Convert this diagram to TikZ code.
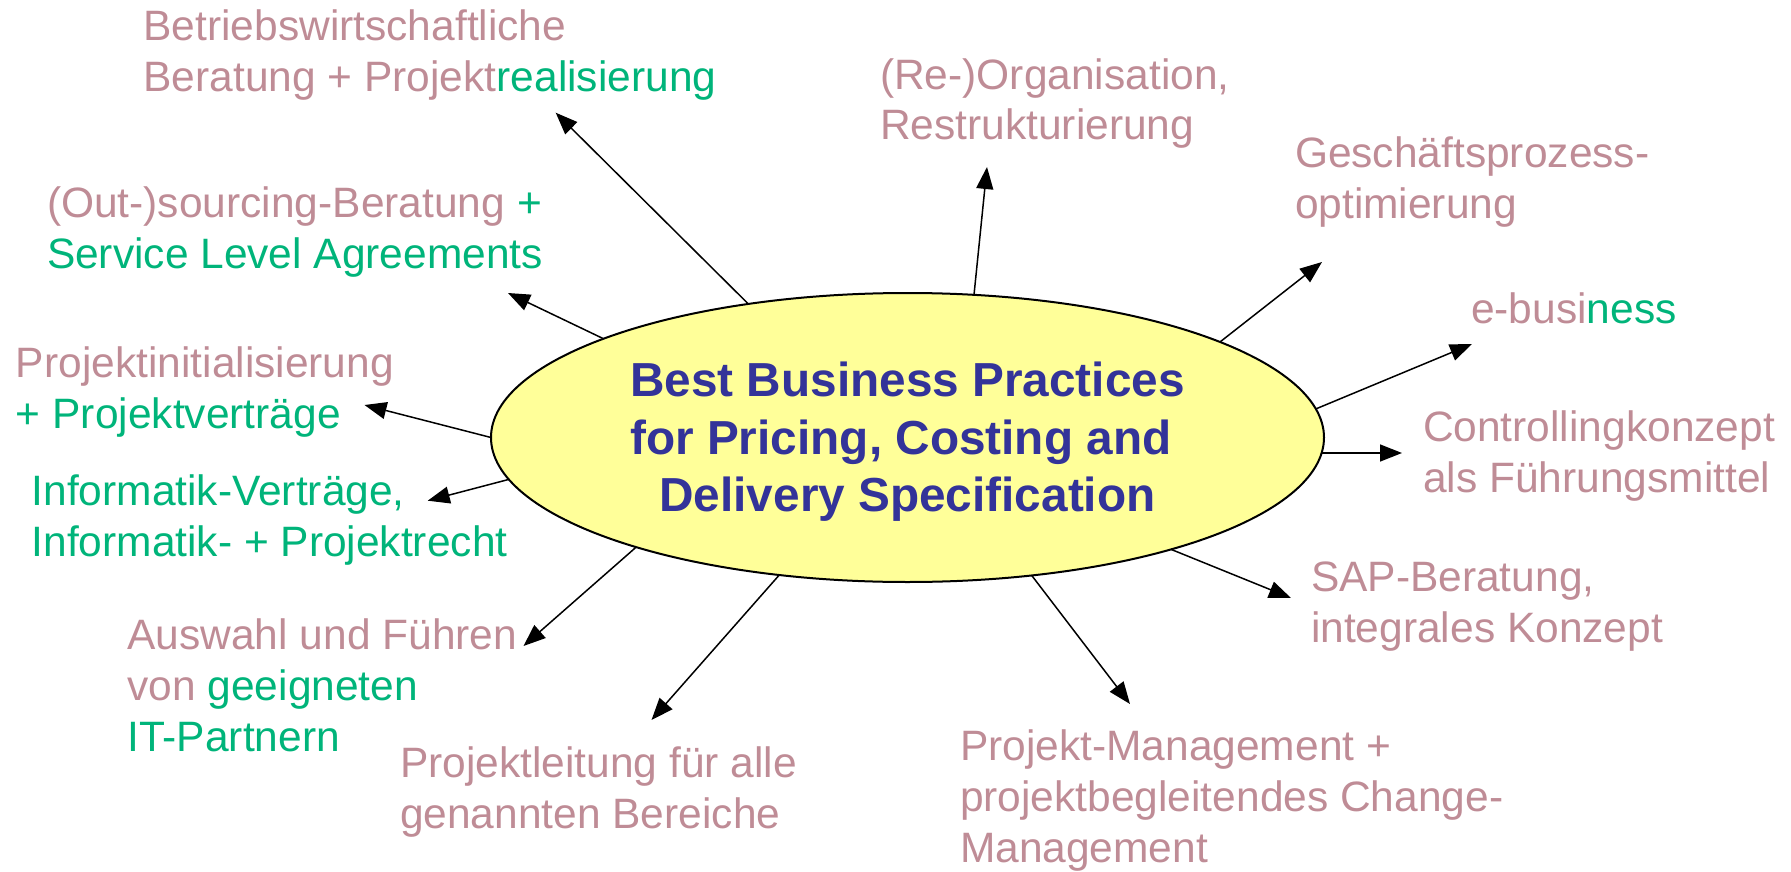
\documentclass[tikz,border=0pt]{standalone}
\usepackage{fontspec}
\setmainfont{Liberation Sans}
\usetikzlibrary{arrows.meta,shapes.geometric}
\definecolor{mauve}{RGB}{191,140,150}
\definecolor{grn}{RGB}{0,180,122}
\definecolor{navy}{RGB}{51,51,153}
\definecolor{ellfill}{RGB}{255,255,153}
\begin{document}
\begin{tikzpicture}[x=1pt,y=-1pt,
  lbl/.style={anchor=base west, inner sep=0pt, outer sep=0pt, align=left, text=mauve, font=\fontsize{42.5}{51}\selectfont},
  arr/.style={line width=1.5pt, -{Triangle[length=22pt,width=17pt]}},
  core/.style={ellipse, draw, line width=2pt, fill=ellfill, minimum width=833pt, minimum height=289pt, inner sep=0pt, outer sep=0pt}
]
\useasboundingbox (0,0) rectangle (1791,872);
\node[core] (core) at (907.5,437.5) {};
\node[anchor=base, inner sep=0pt, align=center, text=navy, font=\fontsize{47.75}{57.5}\selectfont\bfseries] (title) at (907.5,511.7) {Best Business Practices\\for Pricing, Costing and\kern13.3pt\\Delivery Specification};

\node[lbl] (l1) at (143.5,91.7) {Betriebswirtschaftliche\\Beratung + Projekt\textcolor{grn}{realisierung}};
\node[lbl] (l2) at (47,268) {(Out-)sourcing-Beratung \textcolor{grn}{+}\\\textcolor{grn}{Service Level Agreements}};
\node[lbl] (l3) at (16,428) {Projektinitialisierung\\\textcolor{grn}{+ Projektverträge}};
\node[lbl] (l4) at (880,140) {(Re-)Organisation,\\Restrukturierung};
\node[lbl] (l5) at (1295,218) {Geschäftsprozess-\\optimierung};
\node[lbl] (l6) at (1471,323) {e-busi\textcolor{grn}{ness}};
\node[lbl] (l7) at (1423,492) {Controllingkonzept\\als Führungsmittel};
\node[lbl] (l8) at (1311,642) {SAP-Beratung,\\integrales Konzept};
\node[lbl] (l9) at (960,862) {Projekt-Management +\\projektbegleitendes Change-\\Management};
\node[lbl] (l10) at (400,828) {Projektleitung für alle\\genannten Bereiche};
\node[lbl] (l11) at (127.4,751) {Auswahl und Führen\\von \textcolor{grn}{geeigneten}\\\textcolor{grn}{IT-Partnern}};
\node[lbl, text=grn] (l12) at (31.6,556) {Informatik-Verträge,\\Informatik- + Projektrecht};

\coordinate (t1) at (555.7,112.7);
\coordinate (t2) at (508,293);
\coordinate (t3) at (364.5,405);
\coordinate (t4) at (987,167);
\coordinate (t5) at (1322,262);
\coordinate (t6) at (1472,344);
\coordinate (t7) at (427.7,500.7);
\coordinate (t8) at (523.5,646);
\coordinate (t9) at (651.5,720);
\coordinate (t10) at (1402,453);
\coordinate (t11) at (1291,598);
\coordinate (t12) at (1130,704);

\draw[arr] (core.140.4) -- (t1);
\draw[arr] (core.162.5) -- (t2);
\draw[arr] (core.180) -- (t3);
\draw[arr] (core.65.6) -- (t4);
\draw[arr] (core.17.4) -- (t5);
\draw[arr] (core.4.3) -- (t6);
\draw[arr] (core.186.9) -- (t7);
\draw[arr] (core.202.5) -- (t8);
\draw[arr] (core.227.2) -- (t9);
\draw[arr] ([xshift=-2pt]t10 -| core.east) -- (t10);
\draw[arr] (core.337.7) -- (t11);
\draw[arr] (core.312.8) -- (t12);
\end{tikzpicture}
\end{document}
